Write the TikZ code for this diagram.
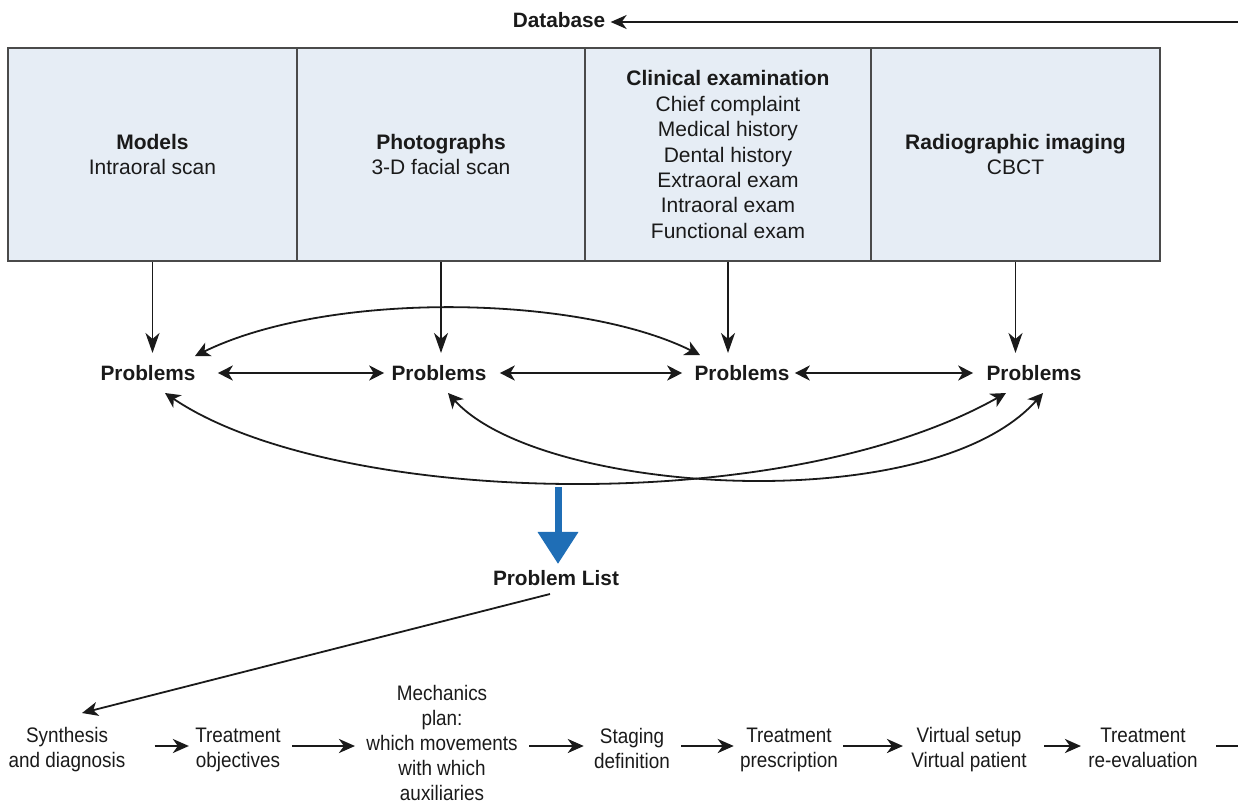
\documentclass[tikz,border=0pt]{standalone}
\usepackage{fontspec}
\setmainfont{Liberation Sans}
\newfontfamily\condfont[FakeStretch=0.9]{Liberation Sans}
\usetikzlibrary{arrows.meta,calc}
\definecolor{boxfill}{HTML}{E6EDF5}
\definecolor{boxline}{HTML}{4A4A4A}
\definecolor{ink}{HTML}{1A1A1A}
\definecolor{bluearr}{HTML}{1F6EB6}
\begin{document}
\begin{tikzpicture}[x=0.5pt,y=-0.5pt,
  srcbox/.style={draw=boxline, line width=1pt, fill=boxfill, minimum height=106.5pt,
    inner sep=0pt, align=center, text=ink, font=\fontsize{10.5}{12.7}\selectfont},
  prob/.style={font=\fontsize{10.4}{12.5}\selectfont\bfseries, inner sep=0pt, text=ink},
  stepnode/.style={font=\condfont\fontsize{10.5}{12.5}\selectfont, inner sep=0pt, align=center, text=ink},
  varr/.style={draw=ink, line width=0.9pt, -{Stealth[length=10pt,width=7pt,inset=3pt]}},
  harr/.style={draw=ink, line width=0.9pt, {Stealth[length=7.5pt,width=7.5pt,inset=2.2pt]}-{Stealth[length=7.5pt,width=7.5pt,inset=2.2pt]}},
  larr/.style={draw=ink, line width=0.9pt, -{Stealth[length=8pt,width=7pt,inset=2.2pt]}},
  barr/.style={draw=ink, line width=1.35pt, -{Stealth[length=8pt,width=7pt,inset=2.5pt]}},
  dbarr/.style={draw=ink, line width=1pt, -{Stealth[length=8pt,width=7pt,inset=2.5pt]}},
  bluearrow/.style={draw=bluearr, line width=3.5pt, -{Triangle[width=19.5pt,length=16pt]}}
]
\useasboundingbox (0,0) rectangle (1238,804);

% Database
\node[prob] (db) at (559,20) {Database};
\coordinate (dbr) at (1238,22);
\draw[dbarr] (dbr) -- (dbr -| {$(db.east)+(5,0)$});

% source boxes
\node[srcbox, minimum width=144.5pt] (models) at (152.5,154.5) {\textbf{Models}\\Intraoral scan};
\node[srcbox, minimum width=144pt] (photos) at (441,154.5) {\textbf{Photographs}\\3-D facial scan};
\node[srcbox, minimum width=143pt] (clin) at (728,154.5) {\textbf{Clinical examination}\\Chief complaint\\Medical history\\Dental history\\Extraoral exam\\Intraoral exam\\Functional exam};
\node[srcbox, minimum width=144.5pt] (radio) at (1015.5,154.5) {\textbf{Radiographic imaging}\\CBCT};

% problems
\node[prob] (p1) at (148,373) {Problems};
\node[prob] (p2) at (439,373) {Problems};
\node[prob] (p3) at (742,373) {Problems};
\node[prob] (p4) at (1034,373) {Problems};

% vertical arrows
\draw[varr] (models.south) -- ($(models.south |- p1.north)+(0,-12)$);
\draw[varr] (photos.south) -- ($(photos.south |- p2.north)+(0,-12)$);
\draw[varr] (clin.south) -- ($(clin.south |- p3.north)+(0,-12)$);
\draw[varr] (radio.south) -- ($(radio.south |- p4.north)+(0,-12)$);

% horizontal double arrows
\draw[harr] ([xshift=11pt]p1.east) -- ([xshift=-3.5pt]p2.west);
\draw[harr] ([xshift=6.5pt]p2.east) -- ([xshift=-6pt]p3.west);
\draw[harr] ([xshift=2.5pt]p3.east) -- ([xshift=-6.5pt]p4.west);

% top arc P1 - P3
\draw[harr] ($(p1.center)+(47,-17)$) .. controls ($(p1.center)+(182,-83)$) and ($(p3.center)+(-162,-78)$) .. ($(p3.center)+(-42,-18)$);
% bottom curves
\draw[harr] ($(p1.center)+(17,20)$) .. controls ($(p1.center)+(182,132)$) and ($(p4.center)+(-254,147)$) .. ($(p4.center)+(-28,20)$);
\draw[harr] ($(p2.center)+(9,20)$) .. controls ($(p2.center)+(101,122)$) and ($(p4.center)+(-104,147)$) .. ($(p4.center)+(9,20)$);

% problem list
\node[prob] (pl) at (556,578) {Problem List};
\coordinate (bs) at (558,487);
\draw[bluearrow] (bs) -- ($(bs |- pl.north)+(0,-6)$);

% bottom row
\node[stepnode] (syn) at (67,750) {Synthesis\\and diagnosis};
\node[stepnode] (obj) at (238,750) {Treatment\\objectives};
\node[stepnode] (mech) at (442,743) {Mechanics\\plan:\\which movements\\with which\\auxiliaries};
\node[stepnode] (stag) at (632,748) {Staging\\definition};
\node[stepnode] (presc) at (789,750) {Treatment\\prescription};
\node[stepnode] (virt) at (969,750) {Virtual setup\\Virtual patient};
\node[stepnode] (reev) at (1143,748) {Treatment\\re-evaluation};
\coordinate (row) at (0,746);
\coordinate (rend) at (1238,746);

\draw[larr] ($(pl.center)+(-6,16)$) -- ($(syn.center)+(15,-37)$);

\draw[barr] ([xshift=14.5pt]syn.east |- row) -- ([xshift=-3pt]obj.west |- row);
\draw[barr] ([xshift=5.5pt]obj.east |- row) -- ([xshift=-5.5pt]mech.west |- row);
\draw[barr] ([xshift=5.5pt]mech.east |- row) -- ([xshift=-5pt]stag.west |- row);
\draw[barr] ([xshift=5.5pt]stag.east |- row) -- ([xshift=-3pt]presc.west |- row);
\draw[barr] ([xshift=2.5pt]presc.east |- row) -- ([xshift=-4pt]virt.west |- row);
\draw[barr] ([xshift=8.5pt]virt.east |- row) -- ([xshift=-3.5pt]reev.west |- row);
\draw[draw=ink, line width=1.35pt] ([xshift=9pt]reev.east |- rend) -- (rend);
\end{tikzpicture}
\end{document}
